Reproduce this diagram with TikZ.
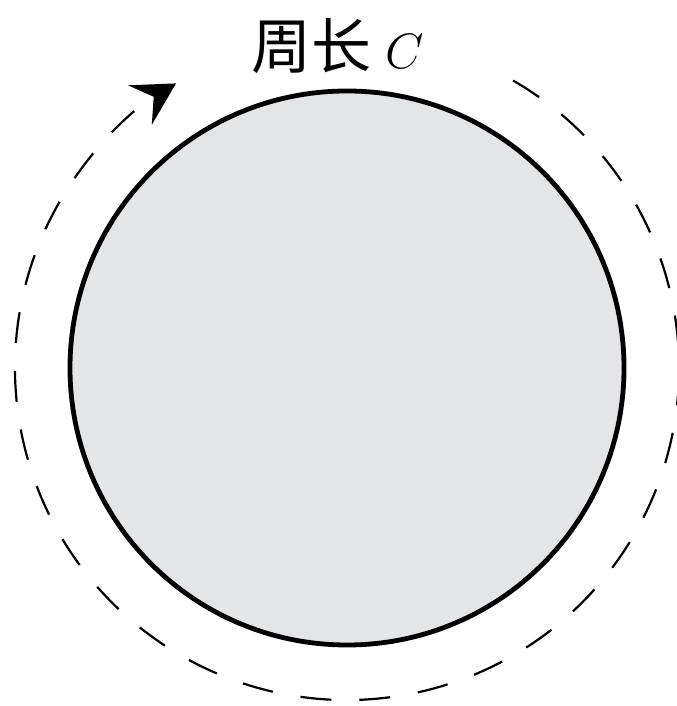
\documentclass[tikz,border=0pt]{standalone}
\usepackage{fontspec}
\newfontfamily\cjk{Noto Sans CJK SC}
\usetikzlibrary{arrows.meta}
\definecolor{diskgray}{RGB}{228,229,231}

\begin{document}
\begin{tikzpicture}[x=0.5pt, y=0.5pt, every node/.style={font=\fontsize{30}{33}\selectfont}]
	\useasboundingbox (0,0) rectangle (676,706);
	\coordinate (o) at (347,338);
	% the disk
	\draw[line width=2.4pt, fill=diskgray] (o) circle (277);
	% path round it, clockwise
	\draw[line width=1.1pt, dash pattern=on 15.5pt off 14pt, -{Stealth[length=21pt, width=23pt, inset=8pt]}]
		([shift={(60:332)}]o) arc[start angle=60, end angle=-239, radius=332];
	\node (label) at (338,660) {\cjk 周长\hspace{7pt}$C$};
\end{tikzpicture}
\end{document}
